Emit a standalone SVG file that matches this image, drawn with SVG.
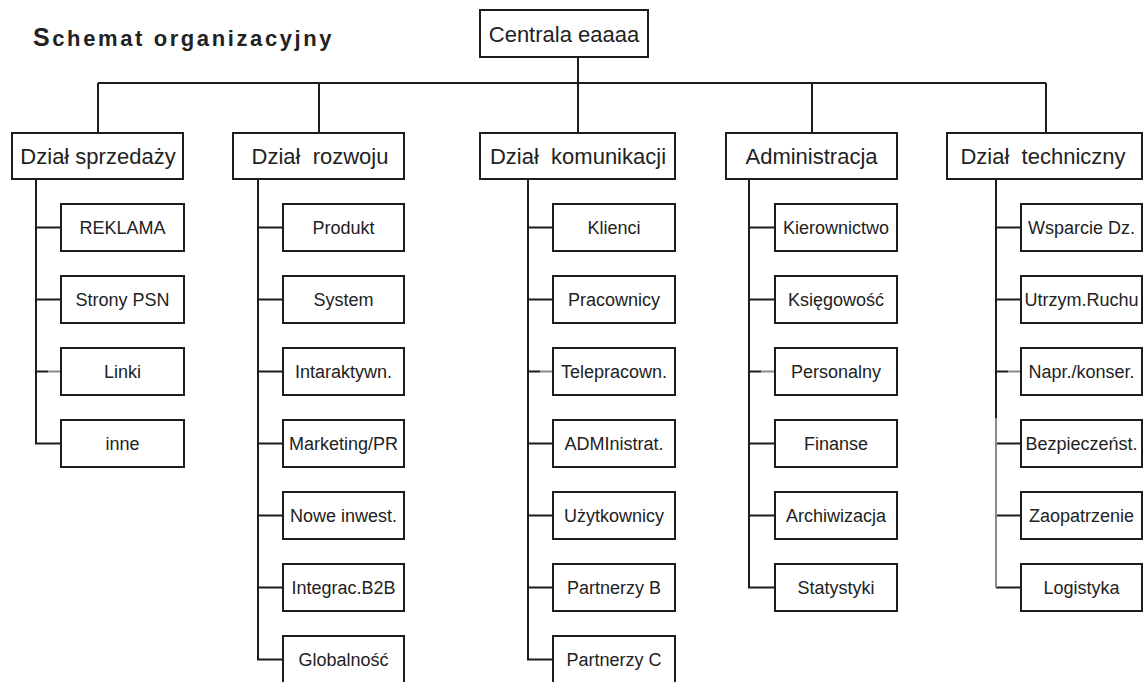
<svg xmlns="http://www.w3.org/2000/svg" width="1148" height="682" viewBox="0 0 1148 682">
  <style>
    .box { fill: #ffffff; stroke: #1c1c1c; stroke-width: 2; }
    .ln { fill: none; stroke: #1c1c1c; stroke-width: 2; }
    .ln-faint { fill: none; stroke: #8a8a8a; stroke-width: 2; }
    .t { font-family: "Liberation Sans", Arial, sans-serif; fill: #222222; text-anchor: middle; }
    .head { font-size: 22px; }
    .item { font-size: 18px; }
    .title { font-family: "Liberation Sans", Arial, sans-serif; font-weight: bold; fill: #222222; font-size: 22px; letter-spacing: 2.6px; }
  </style>
  <rect x="0" y="0" width="1148" height="682" fill="#ffffff"/>

  <text class="title" x="33" y="46"><tspan font-size="25">S</tspan>chemat organizacyjny</text>

  <!-- connectors -->
  <g id="connectors">
    <!-- top level -->
    <path class="ln" d="M578 58 V132 M98 83 H1046 M98 83 V132 M319 83 V132 M812 83 V132 M1046 83 V132"/>
    <!-- Dział sprzedaży -->
    <path class="ln" d="M36 180 V443.5 H60 M36 227.5 H60 M36 299.5 H60 M36 371.5 H48"/>
    <path class="ln-faint" d="M48 371.5 H60"/>
    <!-- Dział rozwoju -->
    <path class="ln" d="M258 180 V659.5 H282 M258 227.5 H282 M258 299.5 H282 M258 371.5 H282 M258 443.5 H282 M258 515.5 H282 M258 587.5 H282"/>
    <!-- Dział komunikacji -->
    <path class="ln" d="M528 180 V659.5 H552 M528 227.5 H552 M528 299.5 H552 M528 371.5 H540 M528 443.5 H552 M528 515.5 H552 M528 587.5 H552"/>
    <path class="ln-faint" d="M540 371.5 H552"/>
    <!-- Administracja -->
    <path class="ln" d="M749 180 V587.5 H774 M749 227.5 H774 M749 299.5 H774 M749 371.5 H761 M749 443.5 H774 M749 515.5 H774"/>
    <path class="ln-faint" d="M761 371.5 H774"/>
    <!-- Dział techniczny -->
    <path class="ln" d="M996 180 V418 M996 227.5 H1020 M996 299.5 H1020 M996 371.5 H1008 M996 443.5 H1020 M996 515.5 H1020 M996 587.5 H1020"/>
    <path class="ln-faint" d="M996 418 V587.5 M1008 371.5 H1020"/>
  </g>

  <!-- root -->
  <g id="centrala">
    <rect class="box" x="480" y="10" width="168" height="47"/>
    <text class="t head" x="564" y="42">Centrala eaaaa</text>
  </g>

  <!-- departments -->
  <g id="dzial-sprzedazy">
    <rect class="box" x="12" y="133" width="171" height="46"/>
    <text class="t head" x="98" y="164">Dział sprzedaży</text>
  </g>
  <g id="dzial-rozwoju">
    <rect class="box" x="233" y="133" width="171" height="46"/>
    <text class="t head" x="320" y="164" xml:space="preserve">Dział  rozwoju</text>
  </g>
  <g id="dzial-komunikacji">
    <rect class="box" x="480" y="133" width="195" height="46"/>
    <text class="t head" x="578" y="164" xml:space="preserve">Dział  komunikacji</text>
  </g>
  <g id="administracja">
    <rect class="box" x="726" y="133" width="171" height="46"/>
    <text class="t head" x="811.5" y="164">Administracja</text>
  </g>
  <g id="dzial-techniczny">
    <rect class="box" x="947" y="133" width="195" height="46"/>
    <text class="t head" x="1043" y="164" xml:space="preserve">Dział  techniczny</text>
  </g>

  <!-- Dział sprzedaży units -->
  <g id="reklama"><rect class="box" x="61" y="204" width="123" height="47"/><text class="t item" x="122.5" y="233.5">REKLAMA</text></g>
  <g id="strony-psn"><rect class="box" x="61" y="276" width="123" height="47"/><text class="t item" x="122.5" y="305.5">Strony PSN</text></g>
  <g id="linki"><rect class="box" x="61" y="348" width="123" height="47"/><text class="t item" x="122.5" y="377.5">Linki</text></g>
  <g id="inne"><rect class="box" x="61" y="420" width="123" height="47"/><text class="t item" x="122.5" y="449.5">inne</text></g>

  <!-- Dział rozwoju units -->
  <g id="produkt"><rect class="box" x="283" y="204" width="121" height="47"/><text class="t item" x="343.5" y="233.5">Produkt</text></g>
  <g id="system"><rect class="box" x="283" y="276" width="121" height="47"/><text class="t item" x="343.5" y="305.5">System</text></g>
  <g id="intaraktywn"><rect class="box" x="283" y="348" width="121" height="47"/><text class="t item" x="343.5" y="377.5">Intaraktywn.</text></g>
  <g id="marketing-pr"><rect class="box" x="283" y="420" width="121" height="47"/><text class="t item" x="343.5" y="449.5">Marketing/PR</text></g>
  <g id="nowe-inwest"><rect class="box" x="283" y="492" width="121" height="47"/><text class="t item" x="343.5" y="521.5">Nowe inwest.</text></g>
  <g id="integrac-b2b"><rect class="box" x="283" y="564" width="121" height="47"/><text class="t item" x="343.5" y="593.5">Integrac.B2B</text></g>
  <g id="globalnosc"><rect class="box" x="283" y="636" width="121" height="47"/><text class="t item" x="343.5" y="665.5">Globalność</text></g>

  <!-- Dział komunikacji units -->
  <g id="klienci"><rect class="box" x="553" y="204" width="122" height="47"/><text class="t item" x="614" y="233.5">Klienci</text></g>
  <g id="pracownicy"><rect class="box" x="553" y="276" width="122" height="47"/><text class="t item" x="614" y="305.5">Pracownicy</text></g>
  <g id="telepracown"><rect class="box" x="553" y="348" width="122" height="47"/><text class="t item" x="614" y="377.5">Telepracown.</text></g>
  <g id="administrat"><rect class="box" x="553" y="420" width="122" height="47"/><text class="t item" x="614" y="449.5">ADMInistrat.</text></g>
  <g id="uzytkownicy"><rect class="box" x="553" y="492" width="122" height="47"/><text class="t item" x="614" y="521.5">Użytkownicy</text></g>
  <g id="partnerzy-b"><rect class="box" x="553" y="564" width="122" height="47"/><text class="t item" x="614" y="593.5">Partnerzy B</text></g>
  <g id="partnerzy-c"><rect class="box" x="553" y="636" width="122" height="47"/><text class="t item" x="614" y="665.5">Partnerzy C</text></g>

  <!-- Administracja units -->
  <g id="kierownictwo"><rect class="box" x="775" y="204" width="122" height="47"/><text class="t item" x="836" y="233.5">Kierownictwo</text></g>
  <g id="ksiegowosc"><rect class="box" x="775" y="276" width="122" height="47"/><text class="t item" x="836" y="305.5">Księgowość</text></g>
  <g id="personalny"><rect class="box" x="775" y="348" width="122" height="47"/><text class="t item" x="836" y="377.5">Personalny</text></g>
  <g id="finanse"><rect class="box" x="775" y="420" width="122" height="47"/><text class="t item" x="836" y="449.5">Finanse</text></g>
  <g id="archiwizacja"><rect class="box" x="775" y="492" width="122" height="47"/><text class="t item" x="836" y="521.5">Archiwizacja</text></g>
  <g id="statystyki"><rect class="box" x="775" y="564" width="122" height="47"/><text class="t item" x="836" y="593.5">Statystyki</text></g>

  <!-- Dział techniczny units -->
  <g id="wsparcie-dz"><rect class="box" x="1021" y="204" width="121" height="47"/><text class="t item" x="1081.5" y="233.5">Wsparcie Dz.</text></g>
  <g id="utrzym-ruchu"><rect class="box" x="1021" y="276" width="121" height="47"/><text class="t item" x="1081.5" y="305.5">Utrzym.Ruchu</text></g>
  <g id="napr-konser"><rect class="box" x="1021" y="348" width="121" height="47"/><text class="t item" x="1081.5" y="377.5">Napr./konser.</text></g>
  <g id="bezpieczenst"><rect class="box" x="1021" y="420" width="121" height="47"/><text class="t item" x="1081.5" y="449.5">Bezpieczeńst.</text></g>
  <g id="zaopatrzenie"><rect class="box" x="1021" y="492" width="121" height="47"/><text class="t item" x="1081.5" y="521.5">Zaopatrzenie</text></g>
  <g id="logistyka"><rect class="box" x="1021" y="564" width="121" height="47"/><text class="t item" x="1081.5" y="593.5">Logistyka</text></g>
</svg>
